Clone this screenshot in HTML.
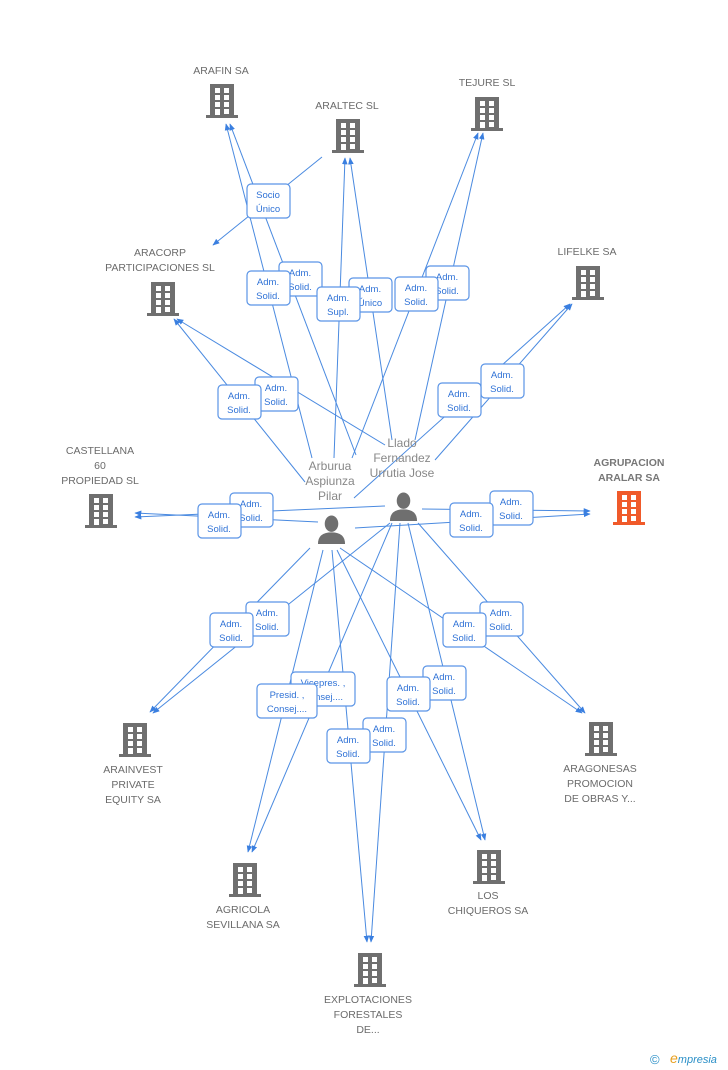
<!DOCTYPE html>
<html><head><meta charset="utf-8"><style>
body{margin:0;background:#fff;}
svg{display:block;font-family:"Liberation Sans",Arial,sans-serif;}
.t{fill:#6b6b6b;font-size:10.5px;text-anchor:middle;}
.l{stroke:#4a8ae0;stroke-width:1;fill:none;}
.b rect.bx{fill:#fff;stroke:#5a94e6;stroke-width:1.2;}
.lb{fill:#2f72d6;font-size:9.5px;text-anchor:middle;}
</style></head><body>
<svg width="728" height="1070" viewBox="0 0 728 1070">
<defs>
<symbol id="bld" viewBox="0 0 32 34">
<rect x="4" y="0" width="24" height="31"/>
<rect x="0" y="31" width="32" height="3"/>
<g fill="#fff">
<rect x="9" y="4" width="5" height="5"/><rect x="18" y="4" width="5" height="5"/>
<rect x="9" y="11" width="5" height="5"/><rect x="18" y="11" width="5" height="5"/>
<rect x="9" y="18" width="5" height="5"/><rect x="18" y="18" width="5" height="5"/>
<rect x="9" y="25" width="5" height="6"/><rect x="18" y="25" width="5" height="5"/>
</g>
</symbol>
<symbol id="per" viewBox="0 0 30 30">
<ellipse cx="15" cy="9" rx="7" ry="8.5"/>
<path d="M1 30 Q1 18 15 18 Q29 18 29 30 Z"/>
</symbol>
<marker id="ar" viewBox="0 0 10 10" refX="9" refY="5" markerWidth="7" markerHeight="7" orient="auto"><path d="M0 1 L10 5 L0 9 Z" fill="#3a7fe0"/></marker>
</defs>

<g class="l" marker-end="url(#ar)">
<line x1="312" y1="458" x2="226" y2="124"/>
<line x1="356" y1="455" x2="230" y2="124"/>
<line x1="334" y1="458" x2="345" y2="158"/>
<line x1="392" y1="440" x2="350" y2="158"/>
<line x1="322" y1="157" x2="213" y2="245"/>
<line x1="352" y1="458" x2="478" y2="133"/>
<line x1="415" y1="440" x2="483" y2="133"/>
<line x1="354" y1="498" x2="570" y2="304"/>
<line x1="435" y1="460" x2="572" y2="304"/>
<line x1="305" y1="482" x2="174" y2="319"/>
<line x1="385" y1="445" x2="177" y2="319"/>
<line x1="318" y1="522" x2="135" y2="513"/>
<line x1="385" y1="506" x2="135" y2="517"/>
<line x1="422" y1="509" x2="590" y2="511"/>
<line x1="355" y1="528" x2="590" y2="514"/>
<line x1="310" y1="548" x2="150" y2="712"/>
<line x1="390" y1="523" x2="153" y2="713"/>
<line x1="340" y1="548" x2="582" y2="713"/>
<line x1="418" y1="523" x2="585" y2="713"/>
<line x1="323" y1="550" x2="248" y2="852"/>
<line x1="392" y1="523" x2="252" y2="852"/>
<line x1="337" y1="550" x2="481" y2="840"/>
<line x1="408" y1="523" x2="485" y2="840"/>
<line x1="332" y1="550" x2="367" y2="942"/>
<line x1="400" y1="523" x2="371" y2="942"/>
</g>

<g fill="#6f6f6f">
<use href="#bld" x="206" y="84" width="32" height="34"/>
<use href="#bld" x="332" y="119" width="32" height="34"/>
<use href="#bld" x="471" y="97" width="32" height="34"/>
<use href="#bld" x="572" y="266" width="32" height="34"/>
<use href="#bld" x="147" y="282" width="32" height="34"/>
<use href="#bld" x="85" y="494" width="32" height="34"/>
<use href="#bld" x="119" y="723" width="32" height="34"/>
<use href="#bld" x="585" y="722" width="32" height="34"/>
<use href="#bld" x="229" y="863" width="32" height="34"/>
<use href="#bld" x="473" y="850" width="32" height="34"/>
<use href="#bld" x="354" y="953" width="32" height="34"/>
<use href="#per" x="317" y="514" width="29" height="31"/>
<use href="#per" x="389" y="491" width="29" height="31"/>
</g>
<use href="#bld" x="613" y="491" width="32" height="34" fill="#f05a2a"/>

<g class="t">
<text x="221" y="74">ARAFIN SA</text>
<text x="347" y="109">ARALTEC SL</text>
<text x="487" y="86">TEJURE SL</text>
<text x="587" y="255">LIFELKE SA</text>
<text x="160" y="256">ARACORP</text><text x="160" y="271">PARTICIPACIONES SL</text>
<text x="100" y="454">CASTELLANA</text><text x="100" y="469">60</text><text x="100" y="484">PROPIEDAD SL</text>
<text x="629" y="466" style="font-weight:bold;fill:#777">AGRUPACION</text><text x="629" y="481" style="font-weight:bold;fill:#777">ARALAR SA</text>
<text x="133" y="773">ARAINVEST</text><text x="133" y="788">PRIVATE</text><text x="133" y="803">EQUITY SA</text>
<text x="600" y="772">ARAGONESAS</text><text x="600" y="787">PROMOCION</text><text x="600" y="802">DE OBRAS Y...</text>
<text x="243" y="913">AGRICOLA</text><text x="243" y="928">SEVILLANA SA</text>
<text x="488" y="899">LOS</text><text x="488" y="914">CHIQUEROS SA</text>
<text x="368" y="1003">EXPLOTACIONES</text><text x="368" y="1018">FORESTALES</text><text x="368" y="1033">DE...</text>
<g style="font-size:12px;fill:#888">
<text x="330" y="470">Arburua</text><text x="330" y="485">Aspiunza</text><text x="330" y="500">Pilar</text>
<text x="402" y="447">Llado</text><text x="402" y="462">Fernandez</text><text x="402" y="477">Urrutia Jose</text>
</g>
</g>

<g class="b">
<g transform="translate(247,184)"><rect class="bx" width="43" height="34" rx="4"/><text class="lb" x="21" y="14">Socio</text><text class="lb" x="21" y="28">Único</text></g>
<g transform="translate(279,262)"><rect class="bx" width="43" height="34" rx="4"/><text class="lb" x="21" y="14">Adm.</text><text class="lb" x="21" y="28">Solid.</text></g>
<g transform="translate(247,271)"><rect class="bx" width="43" height="34" rx="4"/><text class="lb" x="21" y="14">Adm.</text><text class="lb" x="21" y="28">Solid.</text></g>
<g transform="translate(349,278)"><rect class="bx" width="43" height="34" rx="4"/><text class="lb" x="21" y="14">Adm.</text><text class="lb" x="21" y="28">Único</text></g>
<g transform="translate(317,287)"><rect class="bx" width="43" height="34" rx="4"/><text class="lb" x="21" y="14">Adm.</text><text class="lb" x="21" y="28">Supl.</text></g>
<g transform="translate(426,266)"><rect class="bx" width="43" height="34" rx="4"/><text class="lb" x="21" y="14">Adm.</text><text class="lb" x="21" y="28">Solid.</text></g>
<g transform="translate(395,277)"><rect class="bx" width="43" height="34" rx="4"/><text class="lb" x="21" y="14">Adm.</text><text class="lb" x="21" y="28">Solid.</text></g>
<g transform="translate(481,364)"><rect class="bx" width="43" height="34" rx="4"/><text class="lb" x="21" y="14">Adm.</text><text class="lb" x="21" y="28">Solid.</text></g>
<g transform="translate(438,383)"><rect class="bx" width="43" height="34" rx="4"/><text class="lb" x="21" y="14">Adm.</text><text class="lb" x="21" y="28">Solid.</text></g>
<g transform="translate(255,377)"><rect class="bx" width="43" height="34" rx="4"/><text class="lb" x="21" y="14">Adm.</text><text class="lb" x="21" y="28">Solid.</text></g>
<g transform="translate(218,385)"><rect class="bx" width="43" height="34" rx="4"/><text class="lb" x="21" y="14">Adm.</text><text class="lb" x="21" y="28">Solid.</text></g>
<g transform="translate(230,493)"><rect class="bx" width="43" height="34" rx="4"/><text class="lb" x="21" y="14">Adm.</text><text class="lb" x="21" y="28">Solid.</text></g>
<g transform="translate(198,504)"><rect class="bx" width="43" height="34" rx="4"/><text class="lb" x="21" y="14">Adm.</text><text class="lb" x="21" y="28">Solid.</text></g>
<g transform="translate(490,491)"><rect class="bx" width="43" height="34" rx="4"/><text class="lb" x="21" y="14">Adm.</text><text class="lb" x="21" y="28">Solid.</text></g>
<g transform="translate(450,503)"><rect class="bx" width="43" height="34" rx="4"/><text class="lb" x="21" y="14">Adm.</text><text class="lb" x="21" y="28">Solid.</text></g>
<g transform="translate(246,602)"><rect class="bx" width="43" height="34" rx="4"/><text class="lb" x="21" y="14">Adm.</text><text class="lb" x="21" y="28">Solid.</text></g>
<g transform="translate(210,613)"><rect class="bx" width="43" height="34" rx="4"/><text class="lb" x="21" y="14">Adm.</text><text class="lb" x="21" y="28">Solid.</text></g>
<g transform="translate(480,602)"><rect class="bx" width="43" height="34" rx="4"/><text class="lb" x="21" y="14">Adm.</text><text class="lb" x="21" y="28">Solid.</text></g>
<g transform="translate(443,613)"><rect class="bx" width="43" height="34" rx="4"/><text class="lb" x="21" y="14">Adm.</text><text class="lb" x="21" y="28">Solid.</text></g>
<g transform="translate(291,672)"><rect class="bx" width="64" height="34" rx="4"/><text class="lb" x="32" y="14">Vicepres. ,</text><text class="lb" x="32" y="28">Consej....</text></g>
<g transform="translate(257,684)"><rect class="bx" width="60" height="34" rx="4"/><text class="lb" x="30" y="14">Presid. ,</text><text class="lb" x="30" y="28">Consej....</text></g>
<g transform="translate(423,666)"><rect class="bx" width="43" height="34" rx="4"/><text class="lb" x="21" y="14">Adm.</text><text class="lb" x="21" y="28">Solid.</text></g>
<g transform="translate(387,677)"><rect class="bx" width="43" height="34" rx="4"/><text class="lb" x="21" y="14">Adm.</text><text class="lb" x="21" y="28">Solid.</text></g>
<g transform="translate(363,718)"><rect class="bx" width="43" height="34" rx="4"/><text class="lb" x="21" y="14">Adm.</text><text class="lb" x="21" y="28">Solid.</text></g>
<g transform="translate(327,729)"><rect class="bx" width="43" height="34" rx="4"/><text class="lb" x="21" y="14">Adm.</text><text class="lb" x="21" y="28">Solid.</text></g>
</g>

<text x="650" y="1064" style="font-size:13px;fill:#2a8fc7">©</text>
<text x="670" y="1063" style="font-size:11px;fill:#2a8fc7;font-style:italic"><tspan fill="#e8a020" font-size="14">e</tspan>mpresia</text>
</svg>
</body></html>
